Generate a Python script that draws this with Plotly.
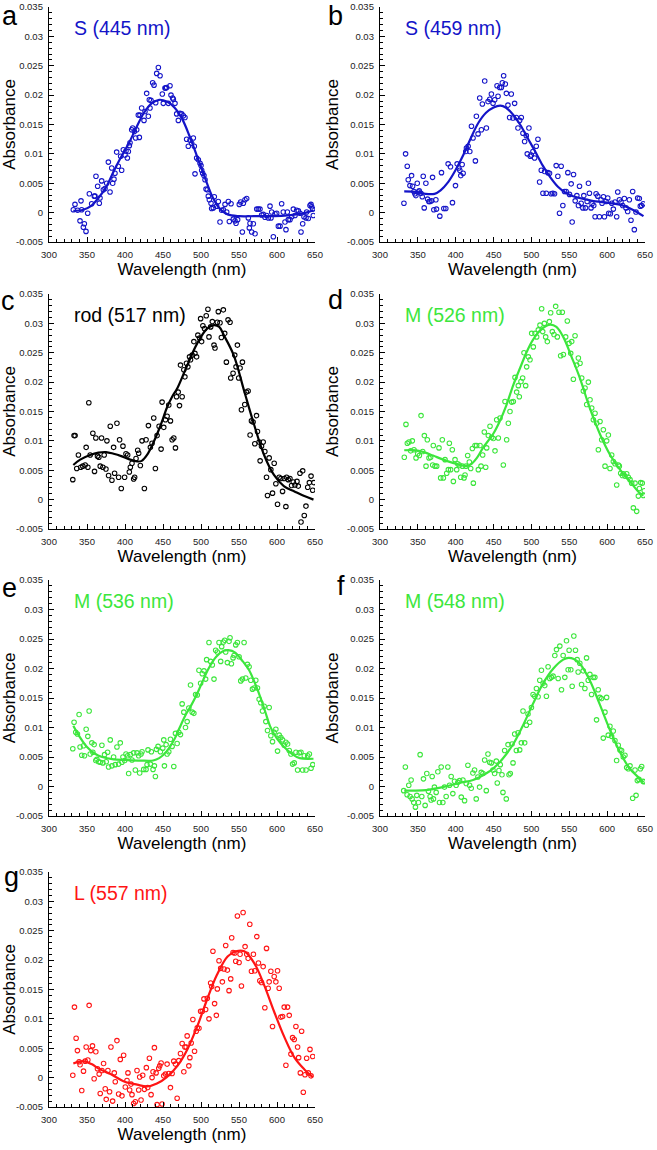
import numpy as np
import plotly.graph_objects as go

# ---------------- data (wavelength nm, absorbance) ----------------
pts_a = [(332.0,0.0005),(334.2,0.0014),(337.7,0.0004),(340.8,-0.0014),(342.1,0.0020),(343.0,0.0005),(345.2,-0.0025),(346.5,-0.0019),(348.7,-0.0032),(350.9,-0.0001),(353.1,0.0032),(356.1,0.0015),(359.6,0.0028),(360.5,0.0028),(361.8,0.0062),(364.0,0.0045),(366.2,0.0016),(367.1,0.0025),(369.3,0.0054),(371.5,0.0039),(373.7,0.0041),(375.9,0.0050),(378.1,0.0086),(380.3,0.0035),(382.5,0.0076),(383.8,0.0050),(385.5,0.0057),(386.8,0.0067),(389.0,0.0103),(391.2,0.0079),(394.3,0.0096),(395.6,0.0072),(397.8,0.0107),(400.0,0.0098),(401.3,0.0105),(403.1,0.0093),(404.4,0.0104),(405.7,0.0114),(406.6,0.0119),(408.8,0.0141),(410.1,0.0144),(412.3,0.0138),(414.0,0.0127),(415.4,0.0141),(417.5,0.0166),(418.9,0.0128),(419.7,0.0166),(421.9,0.0178),(425.0,0.0157),(426.3,0.0172),(428.5,0.0203),(430.7,0.0164),(432.0,0.0192),(432.9,0.0178),(434.2,0.0191),(436.4,0.0221),(438.2,0.0217),(440.4,0.0187),(441.7,0.0237),(443.9,0.0247),(446.1,0.0233),(449.1,0.0202),(450.4,0.0186),(452.6,0.0212),(453.5,0.0212),(454.8,0.0213),(457.0,0.0186),(459.2,0.0216),(460.5,0.0200),(462.7,0.0195),(463.6,0.0193),(465.8,0.0186),(468.0,0.0168),(470.2,0.0157),(472.4,0.0169),(474.6,0.0168),(476.8,0.0165),(478.9,0.0162),(481.1,0.0125),(483.3,0.0113),(485.5,0.0123),(487.7,0.0118),(489.9,0.0127),(491.2,0.0113),(492.1,0.0066),(494.3,0.0093),(496.5,0.0090),(498.7,0.0084),(500.0,0.0080),(500.9,0.0072),(502.2,0.0067),(503.9,0.0063),(505.3,0.0056),(506.6,0.0040),(508.3,0.0039),(509.6,0.0028),(511.0,0.0022),(513.2,0.0016),(514.0,0.0007),(516.2,0.0008),(517.5,0.0027),(520.6,0.0011),(522.8,0.0019),(525.0,-0.0016),(527.2,0.0004),(529.4,0.0005),(531.6,0.0014),(533.8,0.0001),(536.0,0.0019),(537.3,-0.0015),(539.5,0.0015),(542.5,-0.0011),(544.7,-0.0014),(546.1,-0.0018),(548.2,-0.0012),(550.4,0.0014),(552.2,0.0018),(554.4,-0.0033),(555.7,0.0016),(557.9,0.0022),(560.1,0.0024),(562.3,-0.0009),(563.6,-0.0026),(564.5,-0.0018),(566.7,-0.0033),(568.9,-0.0019),(571.1,-0.0036),(573.3,0.0006),(575.4,0.0006),(577.6,0.0006),(579.8,-0.0004),(582.0,-0.0003),(584.2,-0.0008),(586.4,-0.0005),(588.6,-0.0009),(590.8,0.0011),(592.1,-0.0009),(593.0,0.0001),(595.2,-0.0041),(597.4,-0.0002),(599.6,-0.0001),(601.8,-0.0023),(604.0,-0.0023),(606.1,0.0015),(608.3,0.0001),(610.5,-0.0016),(611.8,-0.0029),(613.6,0.0001),(614.9,-0.0012),(617.1,-0.0012),(619.3,-0.0007),(621.5,0.0006),(623.7,-0.0005),(625.9,0.0004),(628.1,0.0003),(630.3,-0.0001),(631.6,-0.0033),(633.8,-0.0019),(635.5,-0.0007),(638.2,-0.0009),(639.0,0.0001),(641.2,-0.0010),(643.4,0.0012),(644.7,0.0014),(645.6,0.0010),(646.9,0.0006),(647.8,-0.0005)]
fit_a = [(332,0.0003),(345,0.0005),(355,0.0011),(365,0.0025),(375,0.0043),(385,0.0070),(395,0.0095),(405,0.0118),(415,0.0145),(425,0.0170),(435,0.0186),(445,0.0192),(455,0.0189),(465,0.0179),(475,0.0160),(485,0.0130),(495,0.0095),(505,0.0060),(515,0.0027),(525,0.0006),(535,-0.0003),(550,-0.0006),(570,-0.0006),(590,-0.0006),(610,-0.0005),(625,-0.0003),(638,0.0000),(648,0.0004)]

pts_b = [(331.6,0.0016),(333.8,0.0100),(336.0,0.0079),(337.3,0.0056),(339.5,0.0046),(341.7,0.0063),(343.0,0.0045),(344.8,0.0036),(346.1,0.0032),(347.4,0.0029),(349.2,0.0050),(350.5,0.0035),(351.8,0.0037),(354.0,0.0033),(355.8,0.0027),(357.1,0.0062),(358.4,0.0008),(360.6,0.0050),(362.8,0.0023),(364.5,0.0019),(365.9,0.0019),(368.1,0.0020),(369.4,0.0060),(371.1,0.0005),(373.8,0.0022),(374.6,0.0006),(379.0,-0.0006),(381.2,0.0068),(384.3,0.0007),(386.9,0.0007),(390.0,0.0083),(393.1,0.0078),(395.7,0.0017),(399.7,0.0046),(401.9,0.0083),(404.1,0.0076),(405.4,0.0072),(406.7,0.0063),(408.5,0.0082),(409.8,0.0067),(413.3,0.0104),(414.2,0.0110),(416.4,0.0113),(418.6,0.0104),(420.8,0.0147),(422.9,0.0127),(426.0,0.0088),(427.3,0.0164),(429.5,0.0134),(431.7,0.0195),(433.9,0.0141),(435.2,0.0185),(438.3,0.0224),(440.5,0.0144),(442.7,0.0189),(444.9,0.0193),(447.1,0.0202),(449.3,0.0186),(451.5,0.0192),(454.6,0.0216),(455.9,0.0198),(458.1,0.0213),(460.3,0.0213),(461.6,0.0221),(463.3,0.0233),(465.5,0.0219),(466.9,0.0203),(469.0,0.0183),(471.2,0.0162),(473.4,0.0202),(475.6,0.0161),(477.8,0.0186),(480.0,0.0162),(482.2,0.0144),(484.4,0.0157),(486.6,0.0162),(488.8,0.0135),(491.0,0.0121),(493.2,0.0131),(494.5,0.0100),(496.7,0.0144),(498.5,0.0096),(499.8,0.0098),(502.0,0.0104),(504.2,0.0093),(506.4,0.0113),(508.6,0.0125),(510.8,0.0052),(513.0,0.0072),(515.2,0.0033),(517.4,0.0070),(519.6,0.0033),(521.7,0.0068),(523.9,0.0067),(526.1,0.0032),(528.3,0.0033),(530.5,0.0032),(532.7,0.0080),(534.9,0.0062),(537.1,-0.0001),(539.3,0.0079),(541.5,0.0012),(543.7,0.0036),(545.9,0.0036),(548.1,0.0068),(550.3,0.0031),(552.5,0.0049),(553.8,-0.0016),(555.6,0.0065),(557.8,0.0020),(560.0,0.0029),(562.1,0.0012),(563.5,0.0045),(565.7,0.0016),(567.9,0.0008),(569.2,0.0029),(571.4,0.0008),(573.6,0.0019),(575.3,0.0050),(576.6,0.0033),(578.8,0.0008),(580.1,0.0015),(582.3,0.0012),(584.1,-0.0007),(585.4,0.0032),(587.6,0.0028),(589.8,-0.0007),(592.0,0.0022),(593.3,0.0016),(595.1,0.0027),(596.4,-0.0007),(598.6,0.0019),(600.8,0.0025),(602.1,-0.0001),(604.3,-0.0002),(606.1,0.0016),(608.2,0.0006),(610.4,0.0018),(612.6,-0.0007),(614.0,0.0035),(616.2,0.0022),(618.3,0.0018),(620.5,0.0012),(622.7,0.0024),(624.9,0.0008),(627.1,0.0002),(629.3,0.0022),(631.5,-0.0013),(633.7,0.0036),(635.9,-0.0029),(638.1,0.0001),(640.3,0.0025),(642.5,0.0024),(643.8,0.0011),(645.6,0.0012),(647.8,0.0015)]
fit_b = [(332,0.0036),(350,0.0035),(360,0.0032),(372,0.0032),(380,0.0038),(390,0.0052),(400,0.0073),(410,0.0098),(420,0.0127),(430,0.0153),(440,0.0170),(450,0.0179),(459,0.0182),(466,0.0179),(475,0.0168),(485,0.0150),(495,0.0127),(505,0.0104),(515,0.0080),(525,0.0060),(535,0.0044),(545,0.0034),(555,0.0028),(570,0.0023),(585,0.0019),(600,0.0017),(615,0.0014),(625,0.0010),(635,0.0004),(648,-0.0006)]

pts_c = [(331.3,0.0034),(333.0,0.0109),(334.3,0.0109),(336.5,0.0053),(338.7,0.0076),(341.8,0.0055),(344.5,0.0057),(347.6,0.0059),(348.9,0.0089),(351.1,0.0055),(352.4,0.0165),(354.2,0.0076),(357.7,0.0113),(359.9,0.0048),(361.6,0.0105),(363.8,0.0074),(365.6,0.0072),(367.4,0.0057),(369.1,0.0105),(370.9,0.0055),(372.6,0.0076),(374.9,0.0052),(376.2,0.0100),(378.4,0.0041),(380.6,0.0125),(382.8,0.0033),(385.0,0.0089),(386.3,0.0045),(389.4,0.0130),(391.6,0.0038),(392.9,0.0102),(395.1,0.0019),(397.3,0.0091),(399.5,0.0038),(401.3,0.0078),(403.5,0.0076),(405.7,0.0047),(407.0,0.0055),(409.2,0.0062),(411.4,0.0035),(412.7,0.0038),(414.5,0.0070),(416.7,0.0084),(418.0,0.0079),(420.2,0.0058),(422.4,0.0100),(425.5,0.0019),(427.7,0.0102),(430.8,0.0126),(433.4,0.0089),(435.6,0.0096),(437.8,0.0139),(440.0,0.0053),(442.2,0.0109),(444.9,0.0125),(447.5,0.0086),(448.8,0.0166),(451.0,0.0123),(453.2,0.0136),(455.4,0.0142),(457.6,0.0161),(459.8,0.0134),(462.0,0.0102),(464.2,0.0105),(466.4,0.0088),(467.8,0.0175),(470.0,0.0183),(471.7,0.0160),(473.0,0.0229),(475.2,0.0175),(477.4,0.0221),(478.8,0.0209),(480.9,0.0232),(482.7,0.0226),(484.9,0.0243),(486.2,0.0238),(488.4,0.0246),(490.6,0.0269),(492.0,0.0249),(494.2,0.0243),(495.9,0.0280),(498.1,0.0275),(499.5,0.0308),(500.8,0.0269),(502.5,0.0296),(504.7,0.0291),(506.9,0.0313),(509.1,0.0324),(510.5,0.0277),(512.7,0.0294),(514.9,0.0303),(517.1,0.0263),(518.4,0.0258),(521.5,0.0302),(522.8,0.0320),(525.0,0.0301),(526.8,0.0276),(529.4,0.0323),(531.2,0.0283),(533.4,0.0234),(535.6,0.0306),(538.2,0.0302),(539.1,0.0207),(542.2,0.0215),(544.4,0.0246),(546.1,0.0226),(547.9,0.0263),(549.6,0.0207),(551.4,0.0224),(553.2,0.0153),(554.5,0.0234),(557.6,0.0162),(559.8,0.0183),(562.0,0.0185),(564.6,0.0110),(566.4,0.0134),(568.6,0.0132),(570.8,0.0095),(573.0,0.0143),(574.3,0.0116),(576.5,0.0098),(577.8,0.0066),(579.6,0.0091),(581.8,0.0098),(584.0,0.0082),(586.2,0.0038),(587.5,0.0007),(589.7,0.0071),(591.9,0.0051),(594.1,0.0011),(596.3,0.0062),(598.5,0.0027),(600.7,-0.0008),(602.9,0.0038),(605.1,0.0036),(607.3,0.0014),(609.5,0.0036),(611.7,-0.0012),(612.6,0.0038),(614.8,0.0034),(617.0,0.0036),(619.2,0.0024),(621.4,0.0030),(623.6,0.0025),(626.3,0.0031),(628.0,0.0023),(630.2,0.0045),(631.6,-0.0038),(633.8,0.0049),(635.9,-0.0027),(638.1,-0.0011),(640.4,0.0021),(642.6,0.0029),(644.8,0.0040),(647.0,0.0016),(648.5,0.0029)]
fit_c = [(332,0.0059),(341,0.0068),(354,0.0076),(365,0.0080),(375,0.0081),(385,0.0078),(395,0.0074),(405,0.0069),(416,0.0065),(422,0.0066),(429,0.0076),(438,0.0099),(447,0.0127),(455,0.0156),(462,0.0175),(469,0.0190),(482,0.0229),(495,0.0266),(508,0.0291),(517,0.0297),(524,0.0294),(530,0.0280),(543,0.0246),(557,0.0184),(570,0.0127),(583,0.0076),(596,0.0042),(609,0.0023),(623,0.0014),(636,0.0006),(648,0.0000)]

pts_d = [(332.1,0.0072),(334.3,0.0128),(336.1,0.0096),(338.3,0.0098),(340.5,0.0083),(342.7,0.0100),(344.9,0.0085),(347.6,0.0071),(349.8,0.0078),(352.0,0.0075),(354.2,0.0143),(356.4,0.0082),(358.6,0.0109),(360.8,0.0057),(362.5,0.0102),(364.7,0.0071),(366.9,0.0072),(369.6,0.0059),(370.4,0.0092),(372.6,0.0057),(374.9,0.0057),(377.9,0.0088),(380.1,0.0037),(382.3,0.0102),(383.7,0.0037),(385.9,0.0068),(388.1,0.0045),(390.3,0.0051),(391.6,0.0096),(393.3,0.0051),(395.5,0.0085),(396.9,0.0031),(399.1,0.0068),(401.3,0.0051),(402.6,0.0061),(404.8,0.0059),(406.6,0.0038),(408.8,0.0057),(411.0,0.0037),(412.3,0.0042),(413.6,0.0057),(415.8,0.0075),(418.0,0.0064),(419.8,0.0053),(422.0,0.0087),(423.3,0.0028),(425.5,0.0092),(427.7,0.0092),(429.9,0.0051),(432.1,0.0092),(433.4,0.0057),(435.6,0.0076),(437.8,0.0115),(439.6,0.0055),(440.9,0.0088),(443.1,0.0109),(445.3,0.0125),(447.5,0.0106),(449.7,0.0104),(451.9,0.0083),(454.1,0.0136),(456.3,0.0105),(458.5,0.0139),(462.9,0.0059),(465.1,0.0167),(467.3,0.0102),(469.5,0.0130),(471.7,0.0150),(473.9,0.0166),(476.1,0.0167),(478.3,0.0208),(480.5,0.0183),(482.7,0.0194),(484.0,0.0175),(486.2,0.0201),(488.4,0.0207),(490.2,0.0250),(492.4,0.0194),(493.7,0.0226),(495.9,0.0243),(498.1,0.0238),(500.3,0.0283),(502.5,0.0260),(504.7,0.0283),(506.9,0.0277),(509.1,0.0289),(511.3,0.0297),(513.5,0.0325),(514.9,0.0286),(517.1,0.0300),(518.8,0.0277),(521.0,0.0269),(523.7,0.0303),(525.4,0.0318),(527.6,0.0286),(529.8,0.0281),(532.0,0.0329),(534.2,0.0277),(536.4,0.0319),(538.6,0.0245),(540.8,0.0319),(542.2,0.0247),(545.2,0.0277),(547.4,0.0304),(549.7,0.0266),(551.9,0.0249),(553.2,0.0269),(555.4,0.0205),(557.6,0.0279),(559.8,0.0229),(562.0,0.0241),(564.2,0.0232),(566.4,0.0207),(568.6,0.0185),(570.8,0.0190),(573.0,0.0162),(575.2,0.0200),(577.4,0.0170),(579.6,0.0156),(581.8,0.0136),(584.0,0.0147),(586.2,0.0130),(588.4,0.0085),(590.6,0.0133),(592.8,0.0102),(595.0,0.0119),(597.2,0.0057),(599.4,0.0100),(601.6,0.0110),(603.8,0.0053),(606.0,0.0076),(608.2,0.0065),(610.4,0.0061),(612.6,0.0025),(614.8,0.0059),(616.1,0.0057),(617.9,0.0045),(620.1,0.0041),(621.4,0.0044),(623.6,0.0040),(625.8,0.0044),(628.0,0.0038),(630.2,0.0034),(632.4,0.0028),(634.6,-0.0014),(636.8,0.0028),(639.0,-0.0020),(641.2,0.0006),(642.6,0.0019),(644.3,0.0029),(646.5,0.0028),(647.8,0.0007),(649.0,0.0015)]
fit_d = [(332,0.0084),(348,0.0084),(360,0.0080),(370,0.0075),(388,0.0066),(406,0.0059),(414,0.0057),(421,0.0061),(428,0.0071),(436,0.0088),(450,0.0113),(458,0.0133),(467,0.0161),(476,0.0195),(485,0.0224),(494,0.0252),(502,0.0272),(514,0.0291),(525,0.0298),(533,0.0294),(542,0.0277),(553,0.0243),(564,0.0207),(577,0.0156),(591,0.0110),(604,0.0076),(617,0.0051),(630,0.0031),(643,0.0011),(648,0.0007)]

pts_e = [(331.3,0.0064),(333.0,0.0109),(335.2,0.0092),(337.4,0.0089),(339.6,0.0122),(340.9,0.0067),(343.1,0.0053),(345.4,0.0069),(346.7,0.0052),(348.9,0.0097),(351.1,0.0085),(352.8,0.0128),(354.2,0.0055),(356.4,0.0074),(357.7,0.0058),(359.4,0.0071),(361.6,0.0044),(363.0,0.0046),(365.2,0.0042),(367.4,0.0041),(369.6,0.0070),(370.9,0.0040),(373.1,0.0054),(375.3,0.0042),(377.1,0.0058),(378.4,0.0033),(380.6,0.0079),(382.8,0.0035),(385.0,0.0050),(387.2,0.0037),(389.4,0.0067),(391.6,0.0038),(393.8,0.0074),(396.0,0.0041),(397.3,0.0050),(399.5,0.0044),(401.3,0.0055),(403.5,0.0052),(404.8,0.0022),(407.0,0.0054),(409.2,0.0045),(411.4,0.0057),(413.6,0.0028),(415.8,0.0057),(418.0,0.0052),(419.3,0.0023),(421.1,0.0055),(422.4,0.0059),(424.6,0.0029),(427.7,0.0029),(429.0,0.0037),(430.3,0.0062),(433.4,0.0038),(434.7,0.0059),(436.9,0.0029),(438.7,0.0035),(440.0,0.0017),(441.3,0.0063),(443.5,0.0068),(446.6,0.0059),(449.7,0.0065),(451.0,0.0079),(451.9,0.0035),(454.1,0.0071),(455.4,0.0055),(457.6,0.0059),(459.8,0.0080),(462.0,0.0068),(464.2,0.0034),(466.4,0.0090),(468.6,0.0073),(470.8,0.0092),(473.0,0.0088),(475.2,0.0140),(477.4,0.0126),(479.6,0.0100),(481.8,0.0110),(484.0,0.0133),(486.2,0.0172),(488.4,0.0126),(490.6,0.0124),(492.9,0.0156),(495.1,0.0155),(497.3,0.0197),(499.5,0.0175),(501.7,0.0191),(503.9,0.0196),(506.1,0.0182),(507.4,0.0215),(510.5,0.0244),(512.7,0.0212),(514.9,0.0206),(517.1,0.0182),(519.3,0.0231),(521.5,0.0228),(523.7,0.0244),(525.9,0.0212),(527.2,0.0237),(529.4,0.0245),(531.2,0.0248),(532.5,0.0228),(534.7,0.0210),(536.9,0.0246),(538.2,0.0252),(540.0,0.0208),(542.2,0.0218),(543.5,0.0222),(545.7,0.0240),(547.9,0.0244),(550.1,0.0220),(552.3,0.0179),(554.5,0.0182),(556.7,0.0244),(558.9,0.0184),(561.1,0.0207),(563.3,0.0203),(565.5,0.0180),(567.7,0.0165),(569.9,0.0167),(572.1,0.0180),(574.3,0.0167),(576.5,0.0148),(578.7,0.0142),(580.9,0.0128),(583.1,0.0136),(585.3,0.0110),(587.5,0.0095),(589.7,0.0134),(591.9,0.0086),(594.1,0.0076),(596.3,0.0092),(598.5,0.0097),(600.7,0.0060),(602.9,0.0087),(605.1,0.0083),(607.3,0.0079),(609.5,0.0070),(611.7,0.0075),(613.9,0.0072),(616.1,0.0061),(618.3,0.0055),(620.5,0.0038),(622.7,0.0040),(624.9,0.0058),(627.1,0.0028),(629.3,0.0057),(631.5,0.0058),(633.7,0.0028),(635.9,0.0052),(638.2,0.0028),(640.4,0.0052),(642.6,0.0055),(644.8,0.0031),(647.0,0.0037)]
fit_e = [(332,0.0103),(340,0.0085),(350,0.0067),(360,0.0056),(370,0.0050),(385,0.0046),(400,0.0045),(420,0.0044),(437,0.0044),(445,0.0048),(455,0.0060),(465,0.0080),(472,0.0100),(480,0.0122),(486,0.0135),(493,0.0152),(500,0.0172),(510,0.0200),(520,0.0220),(530,0.0230),(536,0.0231),(545,0.0227),(555,0.0212),(563,0.0198),(571,0.0175),(579,0.0148),(585,0.0125),(591,0.0102),(600,0.0081),(610,0.0066),(620,0.0055),(630,0.0048),(648,0.0047)]

pts_f = [(331.3,-0.0007),(333.5,0.0033),(335.8,-0.0014),(338.0,0.0002),(339.7,-0.0017),(341.1,0.0011),(342.4,-0.0021),(344.6,-0.0027),(346.8,-0.0035),(348.6,-0.0015),(350.8,-0.0027),(353.0,0.0054),(355.2,-0.0017),(357.4,0.0013),(359.6,-0.0032),(361.8,0.0022),(364.0,-0.0008),(366.2,-0.0017),(367.5,-0.0023),(368.9,0.0017),(370.6,-0.0021),(371.9,-0.0001),(374.2,-0.0010),(376.4,0.0025),(378.6,-0.0027),(380.8,0.0033),(383.0,-0.0027),(385.2,-0.0001),(387.4,-0.0017),(389.6,0.0033),(391.8,0.0002),(394.0,0.0017),(396.2,-0.0012),(398.4,0.0009),(400.6,0.0002),(402.8,0.0007),(405.1,0.0010),(407.3,-0.0018),(409.5,0.0011),(411.7,-0.0024),(413.9,0.0005),(416.1,0.0036),(418.3,0.0002),(420.5,-0.0003),(422.7,0.0023),(424.9,0.0028),(427.1,-0.0021),(429.3,0.0016),(431.5,-0.0001),(433.7,0.0024),(436.0,0.0022),(438.2,0.0045),(440.4,-0.0007),(442.6,0.0055),(444.8,0.0041),(447.0,0.0040),(449.2,0.0028),(451.4,0.0022),(453.6,0.0043),(454.9,0.0006),(457.1,0.0027),(458.9,0.0037),(461.1,0.0020),(462.4,-0.0010),(464.6,0.0061),(466.8,-0.0021),(469.1,0.0071),(470.4,0.0020),(472.1,0.0022),(474.4,0.0072),(475.7,0.0040),(477.9,0.0089),(480.1,0.0061),(482.3,0.0091),(484.5,0.0062),(486.7,0.0074),(488.9,0.0128),(491.1,0.0074),(493.3,0.0104),(495.5,0.0123),(497.7,0.0109),(500.0,0.0134),(502.2,0.0156),(504.4,0.0153),(506.6,0.0166),(508.8,0.0152),(511.0,0.0180),(513.2,0.0197),(515.4,0.0175),(517.6,0.0171),(519.8,0.0153),(522.0,0.0203),(524.2,0.0183),(526.4,0.0185),(528.6,0.0187),(530.9,0.0222),(533.1,0.0232),(535.3,0.0183),(537.5,0.0238),(539.7,0.0164),(541.9,0.0222),(544.1,0.0185),(546.3,0.0247),(548.5,0.0198),(549.8,0.0231),(552.0,0.0198),(553.8,0.0170),(556.0,0.0255),(558.2,0.0231),(560.4,0.0215),(561.7,0.0194),(563.9,0.0209),(566.2,0.0173),(568.4,0.0196),(570.6,0.0166),(572.8,0.0218),(575.0,0.0180),(577.2,0.0190),(579.4,0.0156),(581.6,0.0185),(583.8,0.0185),(586.0,0.0113),(588.2,0.0164),(590.4,0.0151),(592.6,0.0149),(594.9,0.0082),(597.1,0.0126),(599.3,0.0151),(601.5,0.0087),(603.7,0.0102),(605.9,0.0085),(608.1,0.0094),(610.3,0.0078),(612.5,0.0044),(614.7,0.0070),(616.9,0.0062),(619.1,0.0061),(621.3,0.0050),(623.5,0.0053),(625.8,0.0032),(628.0,0.0030),(630.2,0.0035),(633.7,-0.0020),(636.8,0.0028),(638.2,-0.0015),(639.9,0.0010),(642.0,0.0012),(643.9,0.0030),(645.6,0.0034),(647.4,0.0009),(648.5,0.0008)]
fit_f = [(332,-0.0007),(345,-0.0007),(361,-0.0006),(383,-0.0001),(405,0.0006),(423,0.0011),(440,0.0022),(449,0.0030),(462,0.0047),(476,0.0072),(489,0.0104),(502,0.0140),(515,0.0174),(529,0.0200),(542,0.0215),(549,0.0218),(556,0.0216),(564,0.0208),(577,0.0180),(590,0.0140),(604,0.0095),(617,0.0058),(630,0.0030),(641,0.0016),(648,0.0007)]

pts_g = [(331.3,0.0004),(333.5,0.0120),(335.7,0.0067),(337.4,0.0046),(339.6,0.0027),(340.9,0.0022),(343.1,-0.0022),(345.4,0.0011),(347.6,0.0028),(348.9,0.0052),(351.1,0.0030),(352.8,0.0123),(355.0,0.0046),(357.2,0.0054),(359.4,-0.0002),(361.6,0.0044),(363.8,0.0015),(366.0,0.0006),(367.4,-0.0027),(369.6,0.0012),(371.8,0.0024),(374.0,-0.0019),(375.3,-0.0037),(377.5,0.0012),(379.7,-0.0024),(381.5,0.0052),(383.7,-0.0040),(385.9,0.0008),(387.2,-0.0007),(389.4,0.0063),(391.6,-0.0028),(393.8,0.0031),(396.0,-0.0031),(398.2,0.0038),(400.4,-0.0016),(402.6,-0.0005),(403.9,0.0008),(406.1,-0.0021),(407.9,-0.0011),(409.2,-0.0029),(411.4,-0.0044),(413.6,-0.0041),(415.8,0.0012),(418.0,-0.0021),(419.3,0.0001),(421.1,-0.0038),(423.3,0.0004),(425.5,-0.0020),(428.1,0.0017),(429.9,-0.0017),(432.1,0.0033),(434.3,-0.0029),(435.6,0.0000),(436.9,0.0010),(438.7,0.0051),(440.9,0.0008),(442.2,-0.0046),(444.4,0.0016),(445.7,0.0020),(447.5,0.0025),(448.8,-0.0045),(451.0,0.0003),(453.2,0.0006),(455.4,0.0023),(457.6,0.0007),(459.8,-0.0017),(462.0,0.0007),(464.2,0.0028),(466.4,0.0023),(468.6,-0.0035),(470.8,0.0029),(473.0,0.0041),(475.2,0.0058),(477.4,0.0010),(478.8,0.0052),(480.5,0.0052),(481.8,0.0071),(484.0,0.0020),(485.4,0.0034),(487.1,0.0059),(489.3,0.0099),(491.5,0.0045),(493.7,0.0079),(495.1,0.0085),(497.3,0.0084),(499.5,0.0113),(501.7,0.0113),(503.9,0.0134),(506.1,0.0116),(508.3,0.0135),(510.5,0.0100),(512.7,0.0161),(514.0,0.0155),(515.7,0.0215),(517.9,0.0126),(520.2,0.0106),(521.5,0.0151),(523.7,0.0199),(525.9,0.0186),(528.1,0.0163),(530.3,0.0185),(532.5,0.0225),(534.7,0.0183),(536.9,0.0148),(539.1,0.0168),(540.4,0.0238),(542.2,0.0213),(544.4,0.0212),(545.7,0.0198),(547.9,0.0275),(550.1,0.0196),(551.4,0.0210),(553.2,0.0156),(555.4,0.0281),(558.0,0.0223),(560.2,0.0210),(562.0,0.0203),(564.2,0.0261),(566.4,0.0181),(569.0,0.0210),(570.8,0.0182),(573.4,0.0240),(575.6,0.0195),(577.4,0.0165),(579.6,0.0162),(581.8,0.0189),(584.0,0.0119),(586.2,0.0220),(588.4,0.0152),(589.7,0.0163),(591.9,0.0181),(594.1,0.0087),(596.3,0.0172),(598.5,0.0163),(600.7,0.0182),(602.9,0.0152),(605.1,0.0103),(607.3,0.0104),(609.5,0.0120),(611.7,0.0021),(613.9,0.0120),(616.1,0.0106),(618.3,0.0040),(620.5,0.0068),(622.7,0.0065),(624.9,0.0087),(627.1,0.0052),(628.5,0.0034),(630.7,0.0008),(632.4,0.0079),(634.6,-0.0025),(636.8,0.0005),(639.0,0.0033),(641.2,0.0008),(643.4,0.0048),(644.8,0.0003),(647.0,0.0036)]
fit_g = [(332,0.0024),(345,0.0028),(356,0.0023),(367,0.0014),(381,0.0006),(398,-0.0006),(416,-0.0012),(429,-0.0015),(442,-0.0010),(455,0.0001),(469,0.0020),(482,0.0048),(495,0.0087),(508,0.0133),(521,0.0175),(535,0.0206),(546,0.0215),(557,0.0215),(570,0.0195),(583,0.0158),(596,0.0113),(610,0.0068),(623,0.0034),(636,0.0014),(647,0.0001)]

panel_letters = ["a", "b", "c", "d", "e", "f", "g"]
panel_titles = ["S (445 nm)", "S (459 nm)", "rod (517 nm)", "M (526 nm)", "M (536 nm)", "M (548 nm)", "L (557 nm)"]
x_ticks = [300, 350, 400, 450, 500, 550, 600, 650]
y_ticks = [-0.005, 0, 0.005, 0.01, 0.015, 0.02, 0.025, 0.03, 0.035]
y_ticktext = ["-0.005", "0", "0.005", "0.01", "0.015", "0.02", "0.025", "0.03", "0.035"]

# ---------------- styling ----------------
W, H = 657, 1150
FONT = "Arial, Liberation Sans, sans-serif"
BLUE, BLACK, GREEN, RED = "#1414C8", "#000000", "#3CE63C", "#FF1414"
colors = [BLUE, BLUE, BLACK, GREEN, GREEN, GREEN, RED]
all_pts = [pts_a, pts_b, pts_c, pts_d, pts_e, pts_f, pts_g]
all_fits = [fit_a, fit_b, fit_c, fit_d, fit_e, fit_f, fit_g]

col_px = [(49, 315), (380, 645)]
row_px = [(7, 242), (294, 529), (580, 816), (872, 1107)]

def px(x):
    return x / W

def py(y):
    return 1 - y / H

fig = go.Figure()
annotations = []
letter_pos = [(10, 16), (335, 16), (8, 301), (335, 300), (9, 588), (341, 586), (11, 877)]

for i in range(7):
    r, c = divmod(i, 2)
    n = i + 1
    xa = "x" if n == 1 else f"x{n}"
    ya = "y" if n == 1 else f"y{n}"
    p = all_pts[i]
    f = all_fits[i]
    fig.add_trace(go.Scatter(
        x=[q[0] for q in p], y=[q[1] for q in p], mode="markers",
        marker=dict(symbol="circle-open", size=4.5, color=colors[i], line=dict(width=1.1, color=colors[i])),
        xaxis=xa, yaxis=ya, showlegend=False, cliponaxis=True))
    fig.add_trace(go.Scatter(
        x=[q[0] for q in f], y=[q[1] for q in f], mode="lines",
        line=dict(color=colors[i], width=2.2, shape="spline", smoothing=1.0),
        xaxis=xa, yaxis=ya, showlegend=False))

    x0, x1 = col_px[c]
    y0, y1 = row_px[r]
    xkey = "xaxis" if n == 1 else f"xaxis{n}"
    ykey = "yaxis" if n == 1 else f"yaxis{n}"
    fig.update_layout(**{
        xkey: dict(domain=[px(x0), px(x1)], anchor=ya, range=[300, 650],
                   tickmode="array", tickvals=x_ticks,
                   ticks="inside", ticklen=5, tickwidth=1.2, tickcolor="black",
                   minor=dict(tickmode="array", tickvals=list(np.arange(300, 651, 10)),
                              ticks="inside", ticklen=3, tickwidth=1, tickcolor="black"),
                   showline=True, linecolor="black", linewidth=1.3, mirror=False,
                   showgrid=False, zeroline=False, automargin=False,
                   tickfont=dict(family=FONT, size=9.5, color="#222222"),
                   ticklabelstandoff=3,
                   title=dict(text="Wavelength (nm)", font=dict(family=FONT, size=17, color="black"), standoff=4)),
        ykey: dict(domain=[py(y1), py(y0)], anchor=xa, range=[-0.005, 0.035],
                   tickmode="array", tickvals=y_ticks, ticktext=y_ticktext,
                   ticks="inside", ticklen=5, tickwidth=1.2, tickcolor="black",
                   minor=dict(tickmode="array", tickvals=list(np.round(np.arange(-0.005, 0.0351, 0.001), 4)),
                              ticks="inside", ticklen=3, tickwidth=1, tickcolor="black"),
                   showline=True, linecolor="black", linewidth=1.3, mirror=False,
                   showgrid=False, zeroline=False, automargin=False,
                   tickfont=dict(family=FONT, size=9.5, color="#222222"),
                   ticklabelstandoff=3,
                   title=dict(text="Absorbance", font=dict(family=FONT, size=17, color="black"), standoff=4)),
    })
    lx, ly = letter_pos[i]
    annotations.append(dict(text=panel_letters[i], x=px(lx), y=py(ly), xref="paper", yref="paper",
                            xanchor="center", yanchor="middle", showarrow=False,
                            font=dict(family=FONT, size=27, color="black")))
    annotations.append(dict(text=panel_titles[i], x=px(x0 + 23), y=py(y0 + 21), xref="paper", yref="paper",
                            xanchor="left", yanchor="middle", showarrow=False,
                            font=dict(family=FONT, size=19.5, color=colors[i])))

fig.update_layout(width=W, height=H, margin=dict(l=0, r=0, t=0, b=0),
                  paper_bgcolor="white", plot_bgcolor="white",
                  annotations=annotations, font=dict(family=FONT))
fig.write_html("out.html", config={"displayModeBar": False},
               post_script="document.body.style.margin='0';document.body.style.overflow='hidden';")
